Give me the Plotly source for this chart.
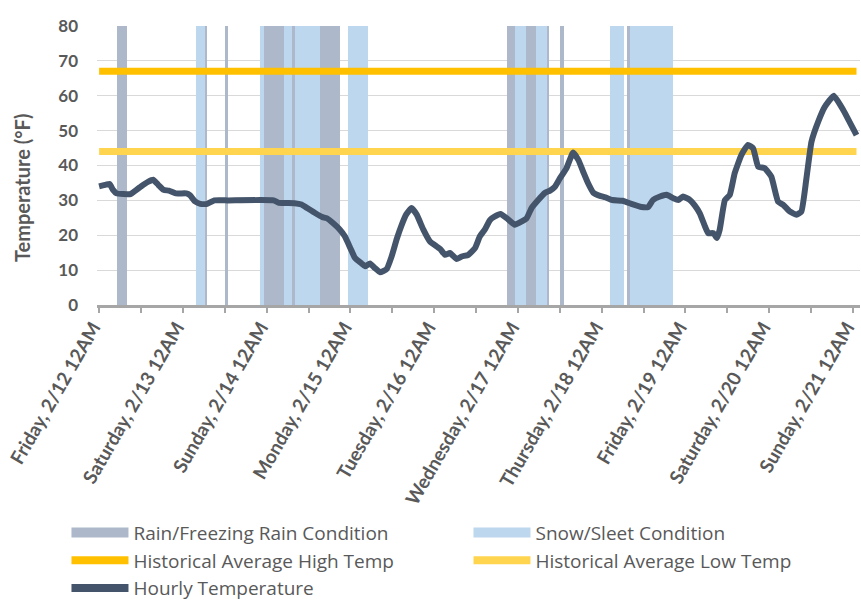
import plotly.graph_objects as go

# ---- data ----
hours = [0, 2, 3, 4, 5, 7, 9, 10, 12, 14, 15.5, 17, 18.5, 20, 22, 25, 26, 27.5, 29, 31,
         33, 37, 50, 51.5, 56, 58, 59, 62, 64, 65.2, 67, 69, 70.4, 72, 73.3, 75.2, 76.2,
         77.6, 79, 80.5, 82.4, 83.8, 85.3, 86.7, 88, 89.5, 91, 92.9, 94.8, 96.7, 97.7,
         99.1, 100.5, 102.4, 103.9, 105.8, 107.7, 109.1, 110.5, 112, 113.4, 115, 116.8,
         119.1, 121, 122.5, 123.9, 125.8, 127.7, 129.2, 130.6, 132, 133.9, 135.8, 137.3,
         138.7, 140.1, 141.6, 143.5, 145, 147, 150, 152.5, 155.4, 157.3, 158.7, 160.7,
         162.6, 164.5, 165.9, 167.3, 169.3, 170.7, 172.1, 173.6, 174.5, 176, 177, 177.8,
         179.3, 180.7, 182.1, 184, 185.9, 187.4, 188.8, 190.7, 192.6, 194.5, 196, 197.9,
         199.8, 201.2, 202.6, 204.1, 206, 207.9, 210.5, 213.2, 215, 217]
temps = [34, 34.5, 34.7, 33, 32, 31.8, 31.8, 32.5, 34, 35.3, 35.9, 34.4, 33, 32.8, 32, 32,
         31.5, 29.7, 29, 29, 30, 30, 30, 29.3, 29.2, 28.8, 28.2, 26.3, 25.2, 24.9, 23.5,
         21.6, 19.7, 16.3, 13.5, 11.9, 11.1, 11.9, 10.6, 9.4, 10.3, 13.9, 19, 23, 26, 27.8,
         25.9, 21.6, 18.2, 16.8, 16.1, 14.4, 14.9, 13.2, 13.9, 14.4, 16.3, 19.7, 21.6, 24.4,
         25.4, 26.1, 24.9, 23, 23.9, 24.9, 27.8, 30.1, 32.1, 32.8, 33.9, 36.3, 39.2, 43.7,
         41.6, 38.2, 34.9, 32.2, 31.3, 30.9, 30.1, 29.9, 29, 28.1, 28.1, 30.1, 31.1, 31.6,
         30.6, 30.1, 31.1, 30.1, 28.5, 26.3, 22.5, 20.6, 20.6, 19.2, 21.6, 30.1, 31.6, 37.8,
         43, 45.9, 44.9, 39.7, 39.2, 36.8, 29.7, 28.7, 26.8, 25.9, 26.8, 35.9, 46.8, 52.5,
         56.8, 60, 55.9, 52.5, 48.7]

rain_start = [5, 30.2, 36, 47.3, 55.4, 63.3, 117, 122.3, 128.2, 132, 151.3]
rain_end = [8, 30.8, 37, 53.1, 56.1, 69, 119.1, 125.1, 128.9, 133.2, 152.1]
snow_start = [27.7, 46, 53.1, 56.1, 71.2, 119.1, 125.1, 146.3, 152.1]
snow_end = [30.2, 47.3, 55.4, 63.3, 77, 122.3, 128.2, 150.4, 164.5]

hist_high = 67
hist_low = 44
y_max = 80

tick_hours = [0, 24, 48, 72, 96, 120, 144, 168, 192, 216]
tick_labels = ["Friday, 2/12 12AM", "Saturday, 2/13 12AM", "Sunday, 2/14 12AM",
               "Monday, 2/15 12AM", "Tuesday, 2/16 12AM", "Wednesday, 2/17 12AM",
               "Thursday, 2/18 12AM", "Friday, 2/19 12AM", "Saturday, 2/20 12AM",
               "Sunday, 2/21 12AM"]

RAIN = "#ADB9CA"
SNOW = "#BDD7EE"
HIGH = "#FFC000"
LOW = "#FFD54F"
TEMP = "#44546A"
TXT = "#595959"
FONT = "Lato"

fig = go.Figure()

def bars(starts, ends, color):
    return go.Bar(
        x=[(s + e) / 2 for s, e in zip(starts, ends)],
        y=[y_max] * len(starts),
        width=[e - s for s, e in zip(starts, ends)],
        base=0,
        marker=dict(color=color, line=dict(width=0)),
        showlegend=False,
        hoverinfo="skip",
    )

fig.add_trace(bars(snow_start, snow_end, SNOW))
fig.add_trace(bars(rain_start, rain_end, RAIN))

fig.add_trace(go.Scatter(x=[hours[0], hours[-1]], y=[hist_high, hist_high], mode="lines",
                         line=dict(color=HIGH, width=7), showlegend=False))
fig.add_trace(go.Scatter(x=[hours[0], hours[-1]], y=[hist_low, hist_low], mode="lines",
                         line=dict(color=LOW, width=7), showlegend=False))
fig.add_trace(go.Scatter(x=hours, y=temps, mode="lines",
                         line=dict(color=TEMP, width=6, shape="spline", smoothing=0.4),
                         showlegend=False))

# legend entries
leg = [("Rain/Freezing Rain Condition", RAIN, 18),
       ("Snow/Sleet Condition", SNOW, 18),
       ("Historical Average High Temp", HIGH, 8),
       ("Historical Average Low Temp", LOW, 8),
       ("Hourly Temperature", TEMP, 8)]
for name, col, w in leg:
    fig.add_trace(go.Scatter(x=[None], y=[None], mode="lines", name=name,
                             line=dict(color=col, width=w)))

fig.update_layout(
    width=861, height=600,
    margin=dict(l=97, r=1, t=26, b=294.5, autoexpand=False),
    paper_bgcolor="white", plot_bgcolor="white",
    barmode="overlay", bargap=0,
    font=dict(family=FONT, color=TXT),
    showlegend=True,
    legend=dict(orientation="h", x=-0.04, y=-0.748, xanchor="left", yanchor="top",
                entrywidth=330, entrywidthmode="pixels", itemwidth=57,
                font=dict(size=19, color=TXT, family="Open Sans"), tracegroupgap=0,
                traceorder="normal"),
    annotations=[dict(text="Temperature (°F)", textangle=-90, xref="paper", yref="paper",
                      x=-0.098, y=0.42, xanchor="center", yanchor="middle", showarrow=False,
                      font=dict(size=20, color=TXT, family=FONT, weight="bold"))],
)
fig.update_xaxes(
    range=[-0.6, 218], showgrid=False, zeroline=False, automargin=False,
    tickmode="array", tickvals=tick_hours, ticktext=tick_labels, tickangle=-60,
    tickfont=dict(size=19, color=TXT, family=FONT, weight="bold"),
    ticklabeloverflow="allow", ticklabelshift=-6, ticklabelstandoff=-4,
    showline=True, linecolor="#A6A6A6", linewidth=3,
    ticks="outside", ticklen=5, tickwidth=2, tickcolor="#A6A6A6",
    minor=dict(tickvals=[h + 12 for h in tick_hours[:-1]], ticks="outside",
               ticklen=5, tickwidth=2, tickcolor="#A6A6A6"),
)
fig.update_yaxes(
    range=[0, y_max], dtick=10, showgrid=True, gridcolor="#D9D9D9", gridwidth=1,
    zeroline=False, showline=False, automargin=False, ticklabelstandoff=18,
    tickfont=dict(size=17, color=TXT, family=FONT, weight="bold"),
)

fig.write_html("out.html", config={"displayModeBar": False},
               post_script="document.body.style.margin='0px';")
